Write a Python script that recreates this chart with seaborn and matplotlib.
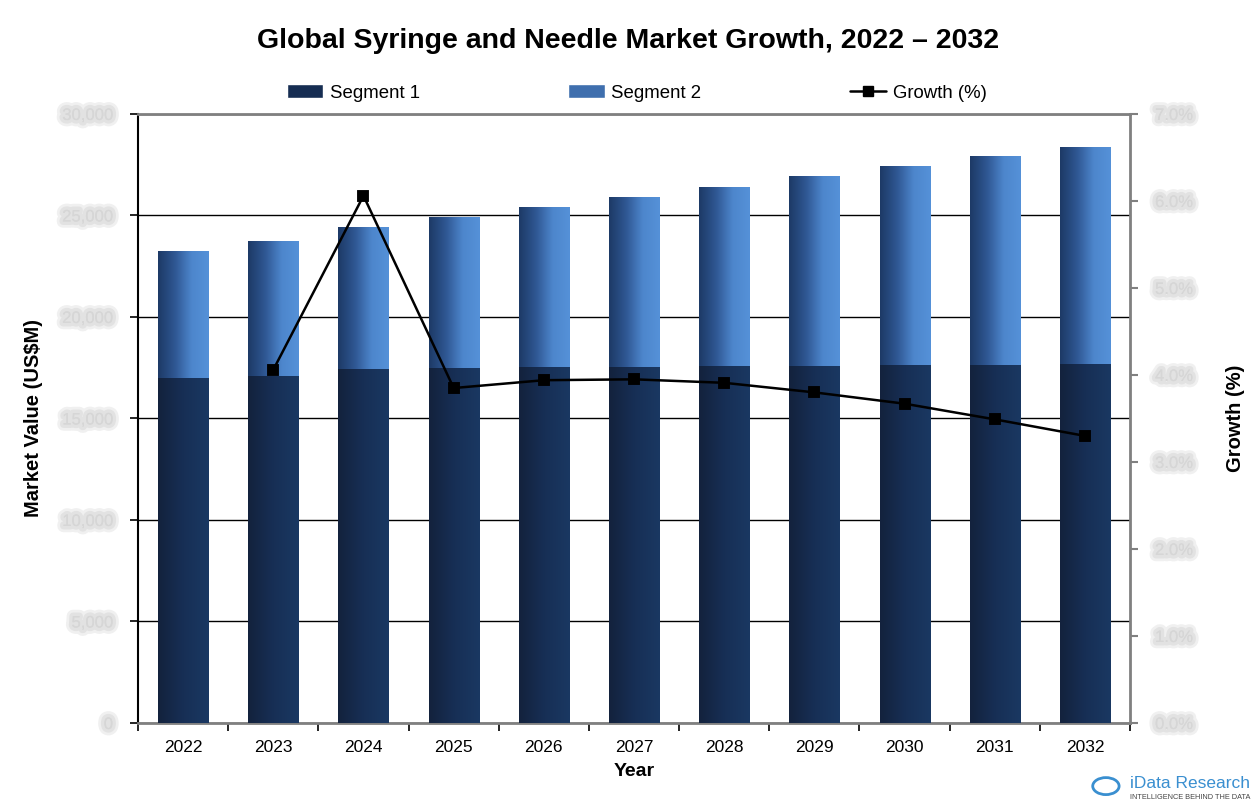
import numpy as np
import pandas as pd
import matplotlib
matplotlib.use("Agg")
import matplotlib.pyplot as plt
import matplotlib.patheffects as pe
from matplotlib.colors import LinearSegmentedColormap
from matplotlib.lines import Line2D
from matplotlib.patches import Patch, Circle
import seaborn as sns

# data (left axis in US$M, right axis in %)
years = ["2022", "2023", "2024", "2025", "2026", "2027", "2028", "2029", "2030", "2031", "2032"]
segment1 = [17000, 17090, 17440, 17490, 17540, 17540, 17590, 17590, 17640, 17640, 17690]
segment2 = [6250, 6650, 6990, 7440, 7880, 8370, 8820, 9360, 9800, 10290, 10680]
growth_years = years[1:]
growth = [4.06, 6.06, 3.85, 3.94, 3.95, 3.91, 3.80, 3.67, 3.49, 3.30]

left_ticks = [0, 5000, 10000, 15000, 20000, 25000, 30000]
right_ticks = [0, 1, 2, 3, 4, 5, 6, 7]

sns.set_theme(style="white")
plt.rcParams["font.family"] = ["Liberation Sans", "DejaVu Sans"]
plt.rcParams["text.color"] = "black"
plt.rcParams["axes.labelcolor"] = "black"

df = pd.DataFrame({"year": years, "seg1": segment1,
                   "total": np.array(segment1) + np.array(segment2)})
gdf = pd.DataFrame({"year": growth_years, "growth": growth})

fig = plt.figure(figsize=(12.56, 8.10), dpi=100)
ax = fig.add_axes([0.1099, 0.1074, 0.7898, 0.7519])

sns.barplot(data=df, x="year", y="total", order=years, color="#3f6fae",
            width=0.555, ax=ax, saturation=1)
n_total = len(ax.patches)
sns.barplot(data=df, x="year", y="seg1", order=years, color="#162d52",
            width=0.555, ax=ax, saturation=1)

cm2 = LinearSegmentedColormap.from_list("s2", ["#1d3a66", "#2f5793", "#4d86cc", "#5591d8"])
cm1 = LinearSegmentedColormap.from_list("s1", ["#13223d", "#172f55", "#1a3862"])
grad = np.linspace(0, 1, 64).reshape(1, -1)
for i, p in enumerate(list(ax.patches)):
    x0, y0 = p.get_x(), p.get_y()
    w, h = p.get_width(), p.get_height()
    cmap = cm2 if i < n_total else cm1
    p.set_facecolor("none")
    p.set_edgecolor("none")
    im = ax.imshow(grad, cmap=cmap, aspect="auto", extent=(x0, x0 + w, y0, y0 + h),
                   zorder=2 if i < n_total else 3, interpolation="bilinear")
    im.set_clip_path(p)

ax.set_xlim(-0.5, len(years) - 0.5)
ax.set_ylim(0, 30000)
ax.set_yticks(left_ticks)
ax.set_yticklabels([f"{v:,}" for v in left_ticks])
ax.yaxis.grid(True, color="black", linewidth=1)
ax.set_axisbelow(True)
for t in ax.yaxis.get_gridlines():
    t.set_zorder(1)

# blurred-looking value labels, as in the reference
blur = [pe.withStroke(linewidth=9, foreground="#f0f0f0"),
        pe.withStroke(linewidth=5, foreground="#e2e2e2"),
        pe.Normal()]

ax.set_xticks(np.arange(len(years)))
ax.set_xticks(np.arange(len(years) + 1) - 0.5, minor=True)
ax.tick_params(axis="x", which="major", length=0, labelsize=12.5, pad=12,
               colors="black", labelcolor="black")
ax.tick_params(axis="x", which="minor", length=6, width=1.2, color="black", direction="out", bottom=True)
ax.tick_params(axis="y", length=6, width=1.2, color="black", direction="out", left=True,
               labelsize=12, pad=12, labelcolor="#d6d6d6")
for lab in ax.get_yticklabels():
    lab.set_path_effects(blur)

ax.set_xlabel("Year", fontsize=14, fontweight="bold", labelpad=6)
ax.set_ylabel("Market Value (US$M)", fontsize=14.5, fontweight="bold", labelpad=14)

ax.spines["left"].set_color("black")
ax.spines["left"].set_linewidth(1.5)
for s in ["top", "right", "bottom"]:
    ax.spines[s].set_color("#808080")
    ax.spines[s].set_linewidth(2)
    ax.spines[s].set_visible(True)

ax2 = ax.twinx()
sns.pointplot(data=gdf, x="year", y="growth", order=years, color="black",
              markers="s", linestyles="-", markersize=7, linewidth=1.8, ax=ax2)
ax2.set_ylim(0, 7)
ax2.set_xlim(-0.5, len(years) - 0.5)
ax2.set_yticks(right_ticks)
ax2.set_yticklabels([f"{v:.1f}%" for v in right_ticks])
ax2.tick_params(axis="y", length=6, width=1.5, color="#808080", direction="out", right=True,
                labelsize=12, pad=12, labelcolor="#d6d6d6")
for lab in ax2.get_yticklabels():
    lab.set_path_effects(blur)
ax2.set_ylabel("Growth (%)", fontsize=14.5, fontweight="bold", labelpad=24, rotation=90)
ax2.set_xlabel("")
for s in ax2.spines.values():
    s.set_visible(False)

fig.suptitle("Global Syringe and Needle Market Growth, 2022 \u2013 2032",
             fontsize=20.5, fontweight="bold", y=0.965, x=0.5)

handles = [Patch(facecolor="#162d52", label="Segment 1"),
           Patch(facecolor="#3f6fae", label="Segment 2"),
           Line2D([], [], color="black", marker="s", markersize=7, linewidth=1.8, label="Growth (%)")]
fig.legend(handles=handles, loc="center", bbox_to_anchor=(0.507, 0.885), ncol=3,
           frameon=False, fontsize=13.4, handlelength=1.95, handleheight=0.75,
           columnspacing=8.0, handletextpad=0.35)

# logo
fig.patches.append(Circle((0.8805, 0.0295), 0.0105, transform=fig.transFigure,
                          fill=False, edgecolor="#3a8fd0", linewidth=2))
fig.text(0.9, 0.033, "iData Research", fontsize=12.5, color="#3a8fd0", va="center", ha="left")
fig.text(0.9, 0.015, "INTELLIGENCE BEHIND THE DATA", fontsize=5.3, color="#444444",
         va="center", ha="left")

fig.savefig("out.png", dpi=100)
